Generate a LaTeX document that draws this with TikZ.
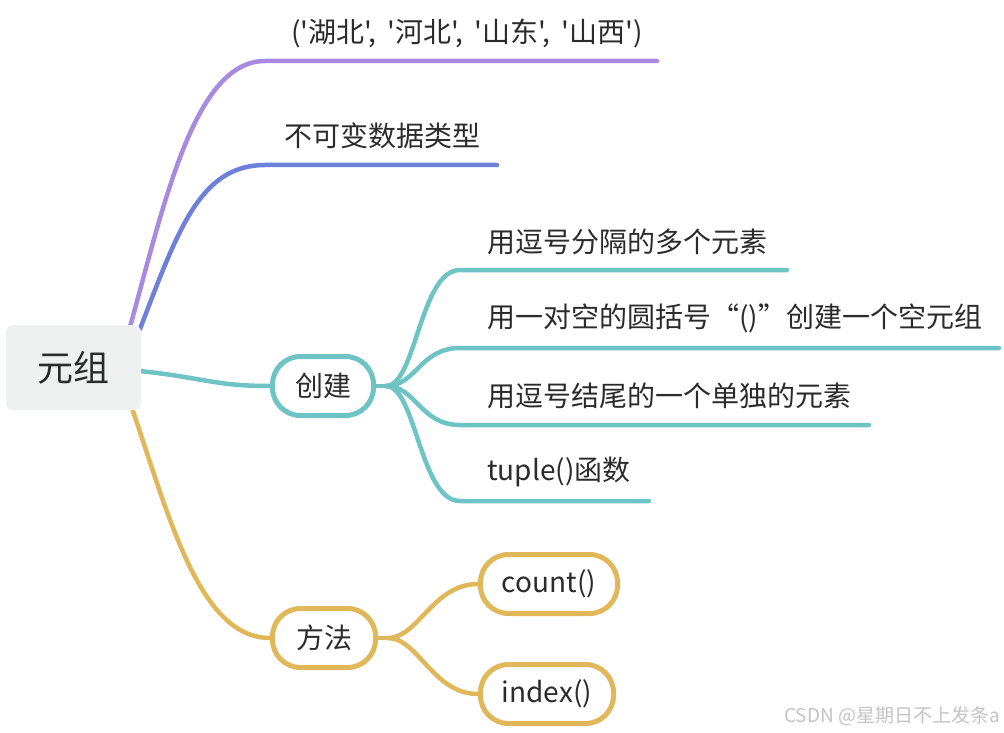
\documentclass[tikz,border=0pt]{standalone}
\usepackage{fontspec}
\setmainfont{Noto Sans CJK SC}[Ligatures=TeXOff]
\usetikzlibrary{calc}
\definecolor{cpurple}{HTML}{A88BE0}
\definecolor{cblue}{HTML}{6D80DA}
\definecolor{cteal}{HTML}{6EC3C4}
\definecolor{cgold}{HTML}{E0B85A}
\definecolor{croot}{HTML}{EFF1F0}
\definecolor{ctext}{HTML}{2B2B2B}
\definecolor{cmark}{HTML}{C4C4C4}
\begin{document}
\begin{tikzpicture}[x=1pt,y=-1pt,
  branch/.style={line width=4.5pt,line cap=round},
  leaf/.style={anchor=west,inner sep=0pt,text=ctext,font=\fontsize{28}{30}\selectfont},
  pill/.style={draw=#1,line width=5pt,fill=white,rounded corners=28pt,inner sep=0pt,
    minimum height=59pt,text=ctext,font=\fontsize{28}{30}\selectfont},
  rootbox/.style={fill=croot,rounded corners=7pt,minimum width=135pt,minimum height=85pt,
    inner sep=0pt,text=ctext,font=\fontsize{36}{40}\selectfont}]
\useasboundingbox (0,0) rectangle (1004,733);
\fill[white] (0,0) rectangle (1004,733);

% coordinates on the root
\coordinate (rp) at (130,327);
\coordinate (rb) at (140,329);
\coordinate (rt) at (140,371);
\coordinate (rg) at (132,408);

% top branches
\coordinate (p1) at (265,61);
\coordinate (p2) at (657,61);
\coordinate (b1) at (265,165);
\coordinate (b2) at (497,165);
\draw[branch,cpurple] (rp) .. controls (165,200) and (195,61) .. (p1) -- (p2);
\draw[branch,cblue] (rb) .. controls (178,230) and (200,165) .. (b1) -- (b2);
\node[leaf] (tup) at (291,33) {('湖北',\hspace{0.4em}'河北',\hspace{0.4em}'山东',\hspace{0.4em}'山西')};
\node[leaf] (imm) at (284,136) {不可变数据类型};

% create branch
\node[pill=cteal,minimum width=101pt] (cj) at (323,386) {创建};
\draw[branch,cteal] (rt) .. controls (205,378) and (215,386) .. (cj.west);

\coordinate (s) at ($(cj.east)+(10,0)$);
\coordinate (t1) at (460,270) ; \coordinate (e1) at (787,270);
\coordinate (t2) at (460,348) ; \coordinate (e2) at (999,348);
\coordinate (t3) at (460,425) ; \coordinate (e3) at (869,425);
\coordinate (t4) at (460,501) ; \coordinate (e4) at (649,501);
\draw[branch,cteal] (cj.east) -- (s);
\foreach \i in {1,2,3,4}{
  \draw[branch,cteal] (s) .. controls ($(s)+(30,0)$) and ($(t\i)+(-40,0)$) .. (t\i) -- (e\i);
}
\node[leaf] (c1) at (487,242) {用逗号分隔的多个元素};
\node[leaf] (c2) at (487,318) {用一对空的圆括号“()”创建一个空元组};
\node[leaf] (c3) at (487,396) {用逗号结尾的一个单独的元素};
\node[leaf] (c4) at (487,472) {tuple()函数};

% method branch
\node[pill=cgold,minimum width=103pt] (ff) at (324,638) {方法};
\draw[branch,cgold] (rg) .. controls (170,520) and (200,638) .. (ff.west);
\node[pill=cgold,minimum width=137pt] (cnt) at (549,584) {count()};
\node[pill=cgold,minimum width=133pt] (idx) at (547,694) {index()};
\coordinate (m) at ($(ff.east)+(10,0)$);
\draw[branch,cgold] (ff.east) -- (m);
\draw[branch,cgold] (m) .. controls ($(m)+(30,0)$) and ($(cnt.west)+(-45,0)$) .. (cnt.west);
\draw[branch,cgold] (m) .. controls ($(m)+(30,0)$) and ($(idx.west)+(-45,0)$) .. (idx.west);

% root
\node[rootbox] (root) at (73.5,367.5) {元组};

% watermark
\node[anchor=east,inner sep=0pt,text=cmark,font=\fontsize{19}{20}\selectfont] (wm) at (1000,716) {CSDN @星期日不上发条a};
\end{tikzpicture}
\end{document}
